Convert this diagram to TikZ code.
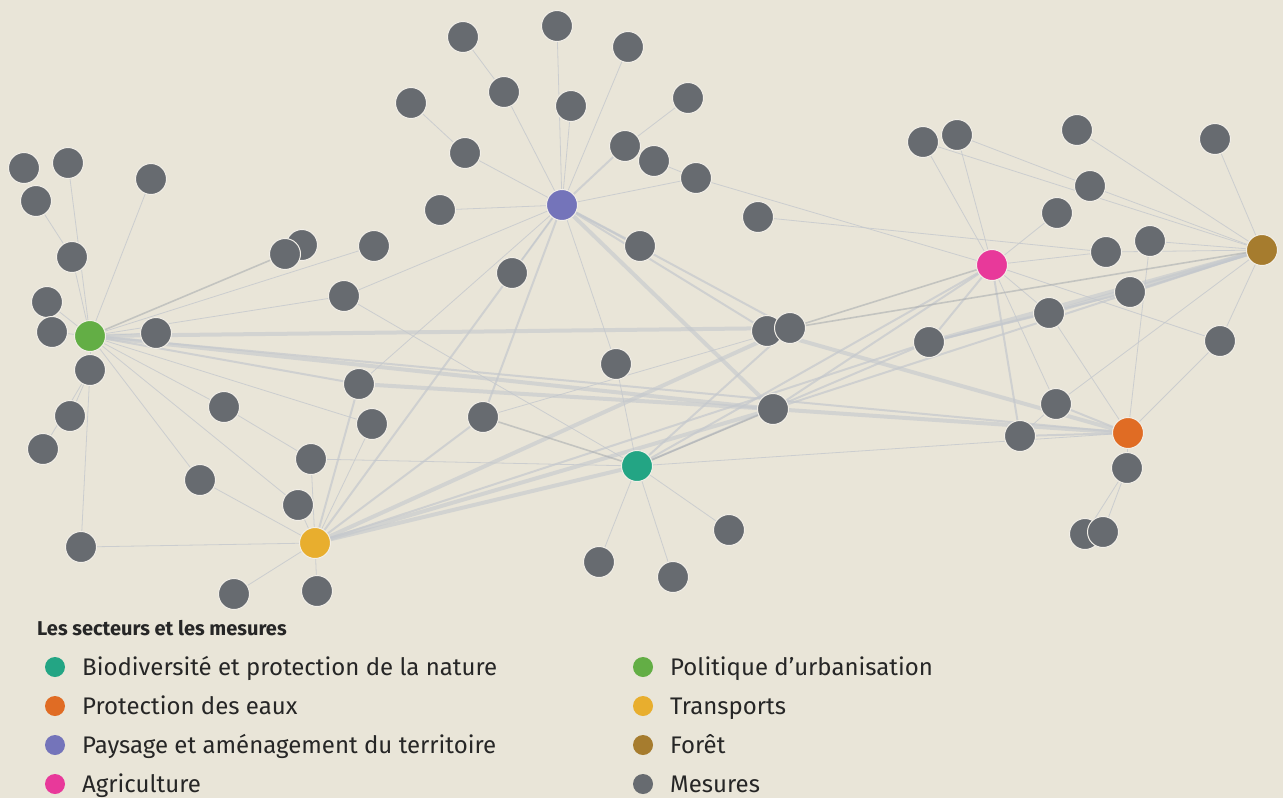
\documentclass[tikz,border=0pt]{standalone}
\usepackage{fontspec}
\setmainfont{Fira Sans}
\usetikzlibrary{backgrounds}
\definecolor{fond}{HTML}{E9E5D8}
\definecolor{mgris}{HTML}{676B70}
\definecolor{lgris}{HTML}{C4C8CD}
\definecolor{cbio}{HTML}{23A584}
\definecolor{ceau}{HTML}{E06C24}
\definecolor{cpay}{HTML}{7474BA}
\definecolor{cagr}{HTML}{E8399A}
\definecolor{curb}{HTML}{63AE45}
\definecolor{ctra}{HTML}{E8AE2E}
\definecolor{cfor}{HTML}{A67C2E}

\begin{document}
\begin{tikzpicture}[x=1pt,y=-1pt,
    mesure/.style = {circle, fill=mgris, draw=fond!60!white,
      line width=1pt, minimum size=31pt, inner sep=0pt},
    secteur/.style = {mesure, fill=#1},
    lien/.style = {draw=lgris, line width=0.8pt, opacity=0.8},
    lienm/.style = {draw=lgris, line width=2pt, opacity=0.7},
    lienf/.style = {draw=lgris, line width=4pt, opacity=0.6},
    lienfonce/.style = {draw=mgris!55, line width=1.6pt, opacity=0.6},
    puce/.style = {circle, fill=#1, minimum size=20pt, inner sep=0pt},
    legende/.style = {anchor=base west, inner sep=0pt,
      font=\fontsize{24}{28}\selectfont, text=black!85}]
  \useasboundingbox (0,0) rectangle (1283,798);

  % secteurs
  \node[secteur=curb] (urb) at (90,336) {};
  \node[secteur=cpay] (pay) at (562,205) {};
  \node[secteur=cagr] (agr) at (992,265) {};
  \node[secteur=cfor] (foret) at (1262,250) {};
  \node[secteur=ceau] (eau) at (1128,433) {};
  \node[secteur=cbio] (bio) at (637,466) {};
  \node[secteur=ctra] (tra) at (315,543) {};

  % mesures
  \foreach \n/\x/\y in {u1/24/168, u2/68/163, u3/36/201, u4/151/179,
      u5/72/257, u6/47/302, u7/52/332, u8/156/333, u9/90/370,
      u10/70/416, u11/43/449, u12/81/547,
      p1/463/37, p2/557/26, p3/628/47, p4/411/103, p5/504/92,
      p6/571/106, p7/688/98, p8/465/153, p9/625/146, p10/654/161,
      p11/696/178, p12/440/210, p13/758/217, p14/640/246, p15/512/273,
      c2/302/245, c1/285/254, c3/374/246, c4/344/296, c5/359/384,
      c6/372/424, c7/224/407, c8/200/480, c9/311/459, c10/298/505,
      c11/483/417, c12/616/364, c13/767/331, c14/790/328, c15/773/409,
      t1/234/594, t2/317/591, b1/599/562, b2/673/577, b3/729/530,
      r1/923/142, r2/957/135, r3/1077/130, r4/1215/139, r5/1090/186,
      r6/1057/213, r7/1106/252, r8/1150/241, r9/1130/292, r10/1049/313,
      r11/929/342, r12/1220/341, r13/1056/404, r14/1020/436,
      r15/1127/468, r16/1085/534, r17/1103/532}
    \node[mesure] (\n) at (\x,\y) {};

  \begin{pgfonlayer}{background}
    \fill[fond] (0,0) rectangle (1283,798);
    % liens fins
    \foreach \a/\b in {urb/u2, u3/u5, u5/urb, urb/u4, urb/u6, urb/u7,
        urb/u8, urb/u9, u9/u10, u9/u11, u9/u12, u12/tra, urb/c3, urb/c4,
        urb/c7, urb/c8, urb/c6, urb/c10, c8/tra, c7/c9, c9/bio, c9/tra,
        c10/tra, t1/tra, t2/tra, c6/tra,
        p1/p5, p5/pay, p2/pay, p3/pay, p4/p8, p8/pay, p6/pay, p7/p9,
        p10/p11, p11/pay, p11/agr, p12/pay, p13/r7, p15/pay, pay/c12,
        c12/bio, pay/c4, pay/c5, c4/bio, c11/c14,
        bio/b1, bio/b2, bio/b3, bio/eau,
        agr/r1, agr/r2, agr/r6, agr/r10, agr/r7, agr/r12, agr/r13,
        foret/r3, foret/r4, foret/r5, foret/r7, foret/r8, foret/r12,
        foret/r13, r2/r5, r1/foret,
        eau/r8, eau/r10, eau/r12, eau/r15, r15/r16, r15/r17, r14/r13}
      \draw[lien] (\a) -- (\b);
    % liens moyens
    \foreach \a/\b in {urb/c5, c5/tra, p9/pay, pay/c14, p14/pay,
        pay/c11, pay/tra, pay/c13, c11/tra, bio/c14, bio/r11,
        bio/agr, tra/r11, c15/agr, c15/foret, r11/agr, r11/r10, r11/r9,
        agr/r14, foret/r9, eau/r13, eau/r14, urb/eau}
      \draw[lienm] (\a) -- (\b);
    % liens forts
    \foreach \a/\b in {urb/c14, urb/c15, pay/c15, bio/tra,
        tra/c14, tra/c15, c13/eau, c15/eau,
        r11/foret, foret/r10, c5/c15}
      \draw[lienf] (\a) -- (\b);
    % liens foncés
    \foreach \a/\b in {urb/c1, c11/bio, bio/c15, c14/agr, c14/foret}
      \draw[lienfonce] (\a) -- (\b);
  \end{pgfonlayer}

  % legende
  \node[anchor=base west, inner sep=0pt,
    font=\bfseries\fontsize{20}{24}\selectfont,
    text=black!85] (titre) at (37,635) {Les secteurs et les mesures};
  \foreach \c/\t/\y [count=\i] in {cbio/Biodiversité et protection de la nature/667,
      ceau/Protection des eaux/706,
      cpay/Paysage et aménagement du territoire/745,
      cagr/Agriculture/784}{
    \node[puce=\c] (pg\i) at (55,\y) {};
    \node[legende] (lg\i) at (82,\y+8) {\t};
  }
  \foreach \c/\t/\y [count=\i] in {curb/Politique d’urbanisation/667,
      ctra/Transports/706,
      cfor/Forêt/745,
      mgris/Mesures/784}{
    \node[puce=\c] (pd\i) at (643,\y) {};
    \node[legende] (ld\i) at (670,\y+8) {\t};
  }
\end{tikzpicture}
\end{document}
